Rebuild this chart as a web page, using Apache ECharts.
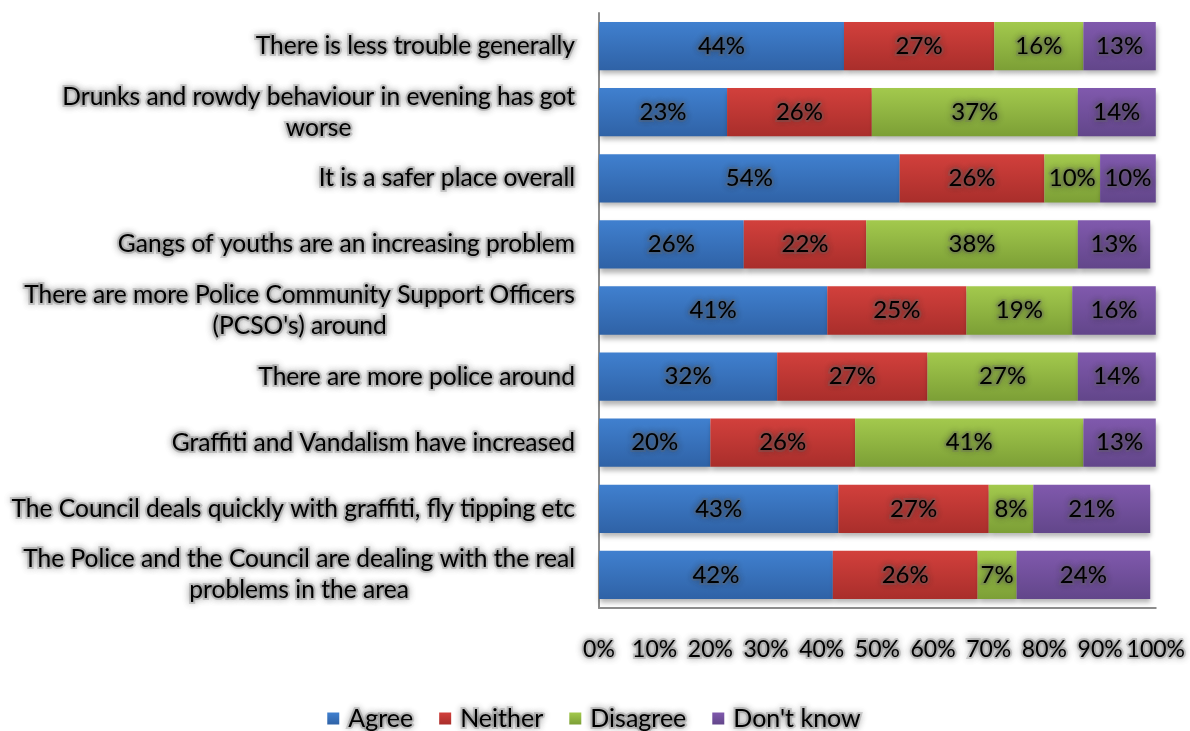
<!DOCTYPE html>
<html>
<head>
<meta charset="utf-8">
<script src="https://cdn.jsdelivr.net/npm/echarts@6/dist/echarts.min.js"></script>
<style>
  html, body { margin: 0; padding: 0; background: #fff; }
  #chart { width: 1190px; height: 731px; }
</style>
</head>
<body>
<div id="chart"></div>
<script>
// Survey statements, listed top to bottom
const categories = [
  'There is less trouble generally',
  'Drunks and rowdy behaviour in evening has got\nworse',
  'It is a safer place overall',
  'Gangs of youths are an increasing problem',
  'There are more Police Community Support Officers\n(PCSO\'s) around',
  'There are more police around',
  'Graffiti and Vandalism have increased',
  'The Council deals quickly with graffiti, fly tipping etc',
  'The Police and the Council are dealing with the real\nproblems in the area'
];

// Share of responses (%) per statement
const agree    = [44, 23, 54, 26, 41, 32, 20, 43, 42];
const neither  = [27, 26, 26, 22, 25, 27, 26, 27, 26];
const disagree = [16, 37, 10, 38, 19, 27, 41,  8,  7];
const dontKnow = [13, 14, 10, 13, 16, 14, 13, 21, 24];

const seriesNames = ['Agree', 'Neither', 'Disagree', "Don't know"];
const xTicks = [0, 10, 20, 30, 40, 50, 60, 70, 80, 90, 100];

const FONT = 'Lato, "Open Sans", sans-serif';
const SIZE = 24;
const CAT_SIZE = 24.6;
// soft grey halo around all text
const glow = {
  textBorderColor: 'rgba(110,110,110,0.28)',
  textBorderWidth: 4,
  textShadowColor: 'rgba(40,40,40,0.55)',
  textShadowBlur: 7
};

function grad(top, bottom) {
  return new echarts.graphic.LinearGradient(0, 0, 0, 1, [
    { offset: 0, color: top },
    { offset: 1, color: bottom }
  ]);
}

const fills = [
  grad('#4080cf', '#2f62a6'),
  grad('#d2403c', '#a92e2b'),
  grad('#a3c94d', '#7c9f36'),
  grad('#8059ad', '#62468a')
];

const values = [agree, neither, disagree, dontKnow];

const series = values.map((vals, i) => ({
  name: seriesNames[i],
  type: 'bar',
  stack: 'total',
  barCategoryGap: '27%',
  data: vals,
  itemStyle: {
    color: fills[i],
    shadowColor: 'rgba(0,0,0,0.3)',
    shadowBlur: 5,
    shadowOffsetY: 4,
    shadowOffsetX: 1
  },
  label: {
    show: true,
    position: 'inside',
    formatter: '{c}%',
    color: '#000',
    fontFamily: FONT,
    fontSize: SIZE,
    ...glow
  }
}));

const chart = echarts.init(document.getElementById('chart'));
chart.setOption({
  animation: false,
  backgroundColor: '#fff',
  grid: { left: 599, right: 31, top: 13, bottom: 123, containLabel: false },
  legend: {
    bottom: -2,
    left: 'center',
    padding: 0,
    data: seriesNames,
    icon: 'rect',
    itemWidth: 12,
    itemHeight: 12,
    itemGap: 24,
    textStyle: {
      color: '#000',
      fontFamily: FONT,
      fontSize: 25,
      padding: [0, 0, 0, 4],
      ...glow
    }
  },
  xAxis: {
    type: 'value',
    min: xTicks[0],
    max: xTicks[xTicks.length - 1],
    interval: 10,
    axisLine: { show: true, lineStyle: { color: '#8c8c8c', width: 2 } },
    axisTick: { show: false },
    splitLine: { show: false },
    axisLabel: {
      margin: 30,
      color: '#000',
      fontFamily: FONT,
      fontSize: 23,
      formatter: '{value}%',
      ...glow
    }
  },
  yAxis: {
    type: 'category',
    inverse: true,
    data: categories,
    axisLine: { show: true, lineStyle: { color: '#8c8c8c', width: 2 } },
    axisTick: { show: false },
    axisLabel: {
      margin: 24,
      color: '#000',
      fontFamily: FONT,
      fontSize: CAT_SIZE,
      lineHeight: 31,
      formatter: function (v) {
        const lines = v.split('\n');
        if (lines.length === 1) return '{r|' + v + '}';
        return '{r|' + lines[0] + '}\n{c|' + lines[1] + '}';
      },
      rich: {
        r: { color: '#000', fontFamily: FONT, fontSize: CAT_SIZE, lineHeight: 31, align: 'right', ...glow },
        c: { color: '#000', fontFamily: FONT, fontSize: CAT_SIZE, lineHeight: 31, align: 'center', ...glow }
      }
    }
  },
  series: series
});
</script>
</body>
</html>
